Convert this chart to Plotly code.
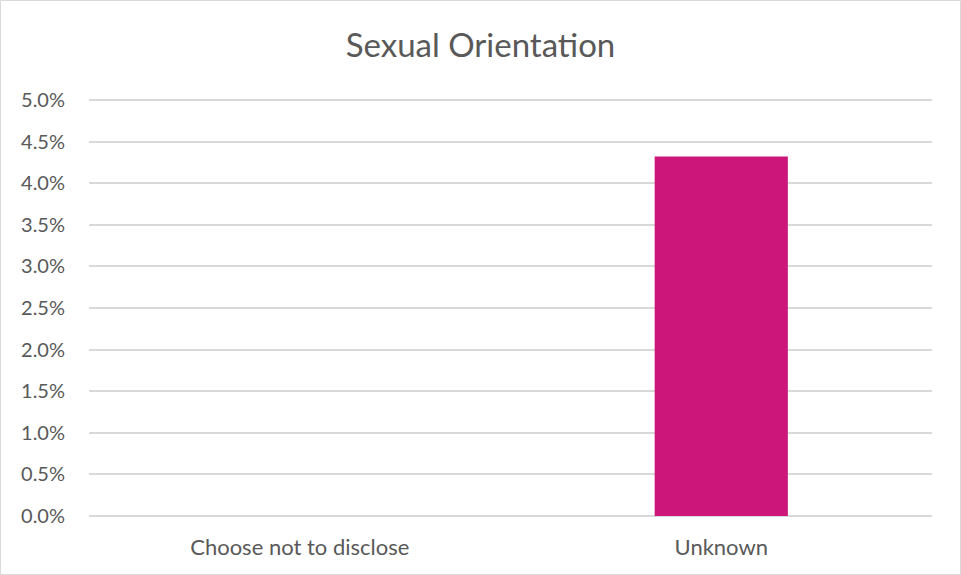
import plotly.graph_objects as go

categories = ["Choose not to disclose", "Unknown"]
values = [0.0, 0.0432]
tick_vals = [0, 0.005, 0.01, 0.015, 0.02, 0.025, 0.03, 0.035, 0.04, 0.045, 0.05]
tick_text = ["0.0%", "0.5%", "1.0%", "1.5%", "2.0%", "2.5%", "3.0%", "3.5%", "4.0%", "4.5%", "5.0%"]

W, H = 961, 575
ml, mr, mt, mb = 89, 29, 98, 59
pw, ph = W - ml - mr, H - mt - mb
y_top = 0.05 * ph / 416.0

fig = go.Figure(go.Bar(x=categories, y=values, marker_color="#CC1679",
                       marker_line_width=0, width=0.316))

fig.update_layout(
    width=W, height=H,
    margin=dict(l=ml, r=mr, t=mt, b=mb),
    paper_bgcolor="white", plot_bgcolor="white",
    font=dict(family="Lato, sans-serif", color="#595959", size=20),
    title=dict(text="Sexual Orientation", x=0.5, xanchor="center", y=1 - 45 / H, yanchor="middle",
               font=dict(size=33, color="#595959")),
    showlegend=False,
    shapes=[dict(type="rect", xref="paper", yref="paper",
                 x0=-(ml - 0.5) / pw, x1=(pw + mr - 0.5) / pw,
                 y0=-(mb - 0.5) / ph, y1=(ph + mt - 0.5) / ph,
                 line=dict(color="#d9d9d9", width=1), layer="below")],
)
fig.update_yaxes(range=[0, y_top], tickvals=tick_vals, ticktext=tick_text,
                 showgrid=True, gridcolor="#d9d9d9", gridwidth=1.5,
                 zeroline=True, zerolinecolor="#d9d9d9", zerolinewidth=1.5,
                 showline=False, ticklabelstandoff=23, tickfont=dict(size=20))
fig.update_xaxes(showline=False, showgrid=False, ticklabelstandoff=16, tickfont=dict(size=22))

fig.write_html("out.html", config={"displayModeBar": False},
               post_script="document.body.style.margin='0';document.body.style.padding='0';")
